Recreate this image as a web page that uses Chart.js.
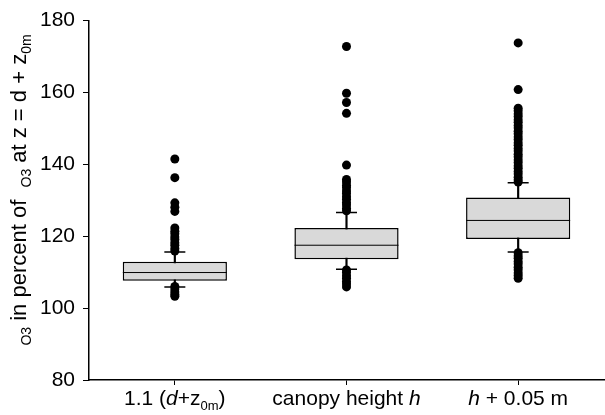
<!DOCTYPE html>
<html>
<head>
<meta charset="utf-8">
<script src="https://cdn.jsdelivr.net/npm/chart.js@4"></script>
<style>
  html, body { margin: 0; padding: 0; background: #fff; }
  #wrap { width: 605px; height: 415px; }
</style>
</head>
<body>
<div id="wrap"><canvas id="chart-box"></canvas></div>
<script>
const categories = ["1.1 (d+z0m)", "canopy height h", "h + 0.05 m"];

// box statistics per category
const whiskerLow = [105.9, 110.8, 115.6];
const quart1 = [107.6, 113.6, 119.2];
const median = [109.9, 117.5, 124.4];
const quart3 = [112.9, 122.3, 130.8];
const whiskerHigh = [115.6, 126.6, 134.9];

// outliers
const outliers1 = [141.5, 136.3, 129.3, 128.1, 126.9, 122.3, 121.4, 120.7, 119.8, 119.1, 118.2, 117.5, 116.6, 115.9,
    106.0, 105.3, 104.5, 103.8, 103.3];
const outliers2 = [172.8, 159.8, 157.2, 154.2, 139.8, 135.8, 135.1, 134.2, 133.5, 132.6, 131.9, 131.0, 130.3, 129.4,
    128.7, 127.8, 127.1, 110.6, 109.9, 109.0, 108.3, 107.4, 106.7, 105.9];
const outliers3 = [173.8, 160.8, 155.6, 154.9, 154.0, 153.3, 152.4, 151.7, 150.8, 150.1, 149.2, 148.5, 147.6, 146.9,
    146.0, 145.3, 144.4, 143.7, 142.8, 142.1, 141.2, 140.5, 139.6, 138.9, 138.0, 137.3, 136.4, 135.7, 135.1,
    115.4, 114.6, 113.9, 113.0, 112.3, 111.4, 110.7, 109.8, 109.1, 108.3];

const yTicks = [80, 100, 120, 140, 160, 180];

const FONT = "'Liberation Sans', Arial, sans-serif";

// rich text pieces for the axis texts (italic / subscript)
const xLabelParts = [
    [{ t: "1.1 (" }, { t: "d", i: true }, { t: "+z" }, { t: "0m", sub: true }, { t: ")" }],
    [{ t: "canopy height " }, { t: "h", i: true }],
    [{ t: "h", i: true }, { t: " + 0.05 m" }],
];
const yTitleParts = [
    { t: "O3", sub: true }, { t: " in percent of  " }, { t: "O3", sub: true },
    { t: " at z = d + z" }, { t: "0m", sub: true },
];

function partFont(p, size) {
    const s = p.sub ? Math.round(size * 0.62) : size;
    return `${p.i ? "italic " : ""}${s}px ${FONT}`;
}

function drawRich(ctx, parts, x, y, size) {
    let total = 0;
    parts.forEach((p) => {
        ctx.font = partFont(p, size);
        p.w = ctx.measureText(p.t).width;
        total += p.w;
    });
    let cx = x - total / 2;
    ctx.textAlign = "left";
    ctx.textBaseline = "alphabetic";
    parts.forEach((p) => {
        ctx.font = partFont(p, size);
        ctx.fillText(p.t, cx, y + (p.sub ? size * 0.22 : 0));
        cx += p.w;
    });
}

const richText = {
    id: "richText",
    afterDraw(chart) {
        const ctx = chart.ctx;
        const xScale = chart.scales.x;
        ctx.save();
        ctx.fillStyle = "#000";
        xLabelParts.forEach((parts, i) => {
            drawRich(ctx, parts, xScale.getPixelForValue(i), 405, 21);
        });
        ctx.translate(26, 190);
        ctx.rotate(-Math.PI / 2);
        drawRich(ctx, yTitleParts, 0, 0, 22);
        ctx.restore();
    },
};

const outlierPoints = [
    ...outliers1.map((v) => ({ x: categories[0], y: v })),
    ...outliers2.map((v) => ({ x: categories[1], y: v })),
    ...outliers3.map((v) => ({ x: categories[2], y: v })),
];

const boxChart = new Chart(document.getElementById("chart-box"), {
    type: "bar",
    data: {
        labels: categories,
        datasets: [
            {
                type: "line",
                data: outlierPoints,
                showLine: false,
                pointRadius: 4.5,
                pointBackgroundColor: "#000",
                pointBorderWidth: 0,
                order: 1,
            },
            {
                type: "line",
                data: median,
                showLine: false,
                pointStyle: "line",
                pointRadius: 52,
                pointBorderColor: "#000",
                pointBorderWidth: 1,
                order: 2,
            },
            {
                type: "line",
                data: whiskerHigh,
                showLine: false,
                pointStyle: "line",
                pointRadius: 10.5,
                pointBorderColor: "#000",
                pointBorderWidth: 1.5,
                order: 3,
            },
            {
                type: "line",
                data: whiskerLow,
                showLine: false,
                pointStyle: "line",
                pointRadius: 10.5,
                pointBorderColor: "#000",
                pointBorderWidth: 1.5,
                order: 3,
            },
            {
                data: quart1.map((q, i) => [q, quart3[i]]),
                backgroundColor: "#d9d9d9",
                borderColor: "#000",
                borderWidth: 1.5,
                borderSkipped: false,
                grouped: false,
                barPercentage: 0.607,
                categoryPercentage: 1,
                order: 4,
            },
            {
                data: whiskerLow.map((w, i) => [w, whiskerHigh[i]]),
                backgroundColor: "#000",
                barThickness: 1.5,
                grouped: false,
                order: 5,
            },
        ],
    },
    options: {
        responsive: true,
        maintainAspectRatio: false,
        animation: false,
        layout: { autoPadding: false, padding: { top: 18, right: 1, left: 0, bottom: 0 } },
        plugins: {
            legend: { display: false },
            tooltip: { enabled: false },
        },
        scales: {
            x: {
                type: "category",
                offset: true,
                grid: {
                    offset: false,
                    drawOnChartArea: false,
                    drawTicks: true,
                    tickLength: 5,
                    tickColor: "#000",
                    tickWidth: 1,
                },
                border: { display: true, color: "#000", width: 1.5 },
                ticks: { display: false },
                afterFit(scale) {
                    scale.height = 35;
                },
            },
            y: {
                min: 80,
                max: 180,
                afterBuildTicks(scale) {
                    scale.ticks = yTicks.map((v) => ({ value: v }));
                },
                grid: {
                    drawOnChartArea: false,
                    drawTicks: true,
                    tickLength: 6,
                    tickColor: "#000",
                    tickWidth: 1,
                },
                border: { display: true, color: "#000", width: 1.5 },
                ticks: {
                    color: "#000",
                    padding: 8,
                    font: { family: FONT, size: 21 },
                },
                afterFit(scale) {
                    scale.width = 89;
                },
            },
        },
    },
    plugins: [richText],
});
</script>
</body>
</html>
